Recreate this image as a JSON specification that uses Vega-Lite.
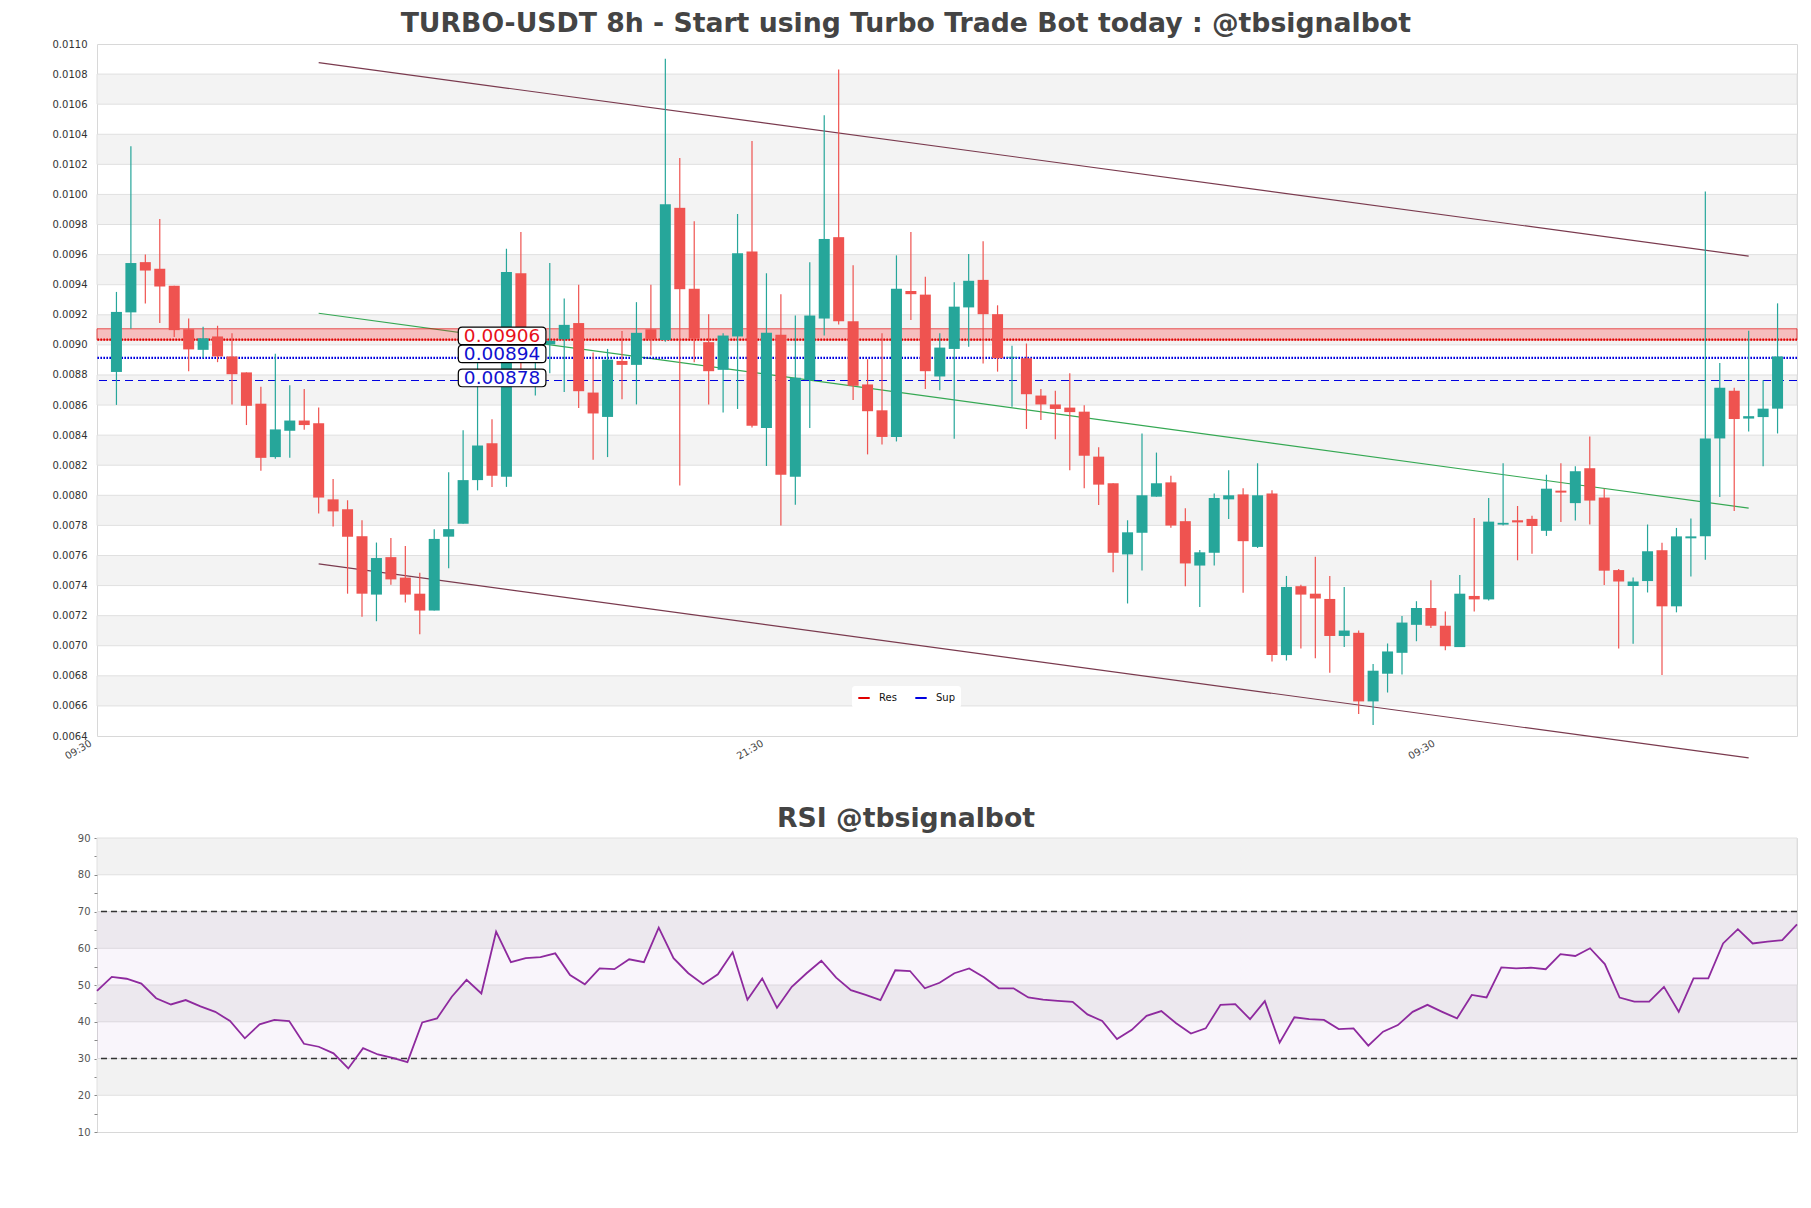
{
  "$schema": "https://vega.github.io/schema/vega-lite/v6.json",
  "background": "white",
  "padding": {"left": 46, "top": 10, "right": 10, "bottom": 5},
  "title": {"text": "TURBO-USDT 8h - Start using Turbo Trade Bot today : @tbsignalbot", "fontSize": 26.7, "font": "DejaVu Sans", "fontWeight": "bold", "color": "#444444", "anchor": "middle", "offset": 1, "dx": -18},
  "config": {"view": {"stroke": "#d8d8d8", "strokeWidth": 1}, "font": "DejaVu Sans", "axis": {"labelOverlap": false, "labelSeparation": 0}},
  "spacing": 38,
  "datasets": {
    "candles": [
      {"i":0,"open":0.008820,"high":0.009352,"low":0.008601,"close":0.009219},
      {"i":1,"open":0.009216,"high":0.010320,"low":0.009107,"close":0.009544},
      {"i":2,"open":0.009550,"high":0.009601,"low":0.009275,"close":0.009494},
      {"i":3,"open":0.009506,"high":0.009837,"low":0.009145,"close":0.009388},
      {"i":4,"open":0.009393,"high":0.009393,"low":0.009053,"close":0.009098},
      {"i":5,"open":0.009104,"high":0.009175,"low":0.008825,"close":0.008970},
      {"i":6,"open":0.008967,"high":0.009121,"low":0.008914,"close":0.009044},
      {"i":7,"open":0.009056,"high":0.009127,"low":0.008885,"close":0.008923},
      {"i":8,"open":0.008923,"high":0.009077,"low":0.008604,"close":0.008805},
      {"i":9,"open":0.008817,"high":0.008817,"low":0.008467,"close":0.008595},
      {"i":10,"open":0.008609,"high":0.008722,"low":0.008163,"close":0.008249},
      {"i":11,"open":0.008254,"high":0.008941,"low":0.008243,"close":0.008438},
      {"i":12,"open":0.008429,"high":0.008731,"low":0.008249,"close":0.008497},
      {"i":13,"open":0.008497,"high":0.008707,"low":0.008435,"close":0.008467},
      {"i":14,"open":0.008479,"high":0.008583,"low":0.007879,"close":0.007985},
      {"i":15,"open":0.007973,"high":0.008109,"low":0.007793,"close":0.007893},
      {"i":16,"open":0.007908,"high":0.007967,"low":0.007346,"close":0.007725},
      {"i":17,"open":0.007728,"high":0.007834,"low":0.007192,"close":0.007346},
      {"i":18,"open":0.007340,"high":0.007686,"low":0.007163,"close":0.007583},
      {"i":19,"open":0.007589,"high":0.007716,"low":0.007405,"close":0.007441},
      {"i":20,"open":0.007453,"high":0.007663,"low":0.007287,"close":0.007340},
      {"i":21,"open":0.007346,"high":0.007485,"low":0.007077,"close":0.007234},
      {"i":22,"open":0.007234,"high":0.007775,"low":0.007234,"close":0.007710},
      {"i":23,"open":0.007725,"high":0.008154,"low":0.007515,"close":0.007775},
      {"i":24,"open":0.007811,"high":0.008432,"low":0.007811,"close":0.008101},
      {"i":25,"open":0.008101,"high":0.008879,"low":0.008033,"close":0.008331},
      {"i":26,"open":0.008346,"high":0.008506,"low":0.008056,"close":0.008130},
      {"i":27,"open":0.008124,"high":0.009639,"low":0.008056,"close":0.009485},
      {"i":28,"open":0.009476,"high":0.009751,"low":0.008790,"close":0.008880},
      {"i":29,"open":0.008880,"high":0.009100,"low":0.008663,"close":0.009000},
      {"i":30,"open":0.009003,"high":0.009544,"low":0.008811,"close":0.009027},
      {"i":31,"open":0.009038,"high":0.009308,"low":0.008686,"close":0.009133},
      {"i":32,"open":0.009145,"high":0.009399,"low":0.008580,"close":0.008692},
      {"i":33,"open":0.008683,"high":0.008950,"low":0.008237,"close":0.008544},
      {"i":34,"open":0.008521,"high":0.008973,"low":0.008254,"close":0.008902},
      {"i":35,"open":0.008893,"high":0.009092,"low":0.008639,"close":0.008867},
      {"i":36,"open":0.008867,"high":0.009284,"low":0.008604,"close":0.009080},
      {"i":37,"open":0.009104,"high":0.009399,"low":0.008929,"close":0.009038},
      {"i":38,"open":0.009033,"high":0.010902,"low":0.009020,"close":0.009935},
      {"i":39,"open":0.009911,"high":0.010243,"low":0.008065,"close":0.009370},
      {"i":40,"open":0.009373,"high":0.009822,"low":0.008885,"close":0.009041},
      {"i":41,"open":0.009018,"high":0.009204,"low":0.008604,"close":0.008825},
      {"i":42,"open":0.008834,"high":0.009077,"low":0.008550,"close":0.009062},
      {"i":43,"open":0.009056,"high":0.009870,"low":0.008574,"close":0.009609},
      {"i":44,"open":0.009621,"high":0.010355,"low":0.008450,"close":0.008462},
      {"i":45,"open":0.008447,"high":0.009476,"low":0.008195,"close":0.009080},
      {"i":46,"open":0.009068,"high":0.009337,"low":0.007799,"close":0.008136},
      {"i":47,"open":0.008124,"high":0.009195,"low":0.007938,"close":0.008781},
      {"i":48,"open":0.008766,"high":0.009550,"low":0.008447,"close":0.009195},
      {"i":49,"open":0.009175,"high":0.010527,"low":0.009062,"close":0.009704},
      {"i":50,"open":0.009716,"high":0.010831,"low":0.009136,"close":0.009157},
      {"i":51,"open":0.009157,"high":0.009530,"low":0.008633,"close":0.008728},
      {"i":52,"open":0.008737,"high":0.008905,"low":0.008272,"close":0.008559},
      {"i":53,"open":0.008565,"high":0.009077,"low":0.008337,"close":0.008388},
      {"i":54,"open":0.008388,"high":0.009595,"low":0.008358,"close":0.009373},
      {"i":55,"open":0.009358,"high":0.009751,"low":0.009166,"close":0.009337},
      {"i":56,"open":0.009334,"high":0.009453,"low":0.008707,"close":0.008825},
      {"i":57,"open":0.008790,"high":0.009077,"low":0.008698,"close":0.008982},
      {"i":58,"open":0.008973,"high":0.009417,"low":0.008376,"close":0.009254},
      {"i":59,"open":0.009249,"high":0.009604,"low":0.008988,"close":0.009426},
      {"i":60,"open":0.009432,"high":0.009689,"low":0.008876,"close":0.009204},
      {"i":61,"open":0.009204,"high":0.009263,"low":0.008822,"close":0.008911},
      {"i":62,"open":0.008915,"high":0.008994,"low":0.008589,"close":0.008920},
      {"i":63,"open":0.008911,"high":0.009009,"low":0.008441,"close":0.008672},
      {"i":64,"open":0.008663,"high":0.008707,"low":0.008500,"close":0.008604},
      {"i":65,"open":0.008604,"high":0.008695,"low":0.008373,"close":0.008574},
      {"i":66,"open":0.008583,"high":0.008811,"low":0.008166,"close":0.008553},
      {"i":67,"open":0.008556,"high":0.008598,"low":0.008047,"close":0.008263},
      {"i":68,"open":0.008257,"high":0.008320,"low":0.007935,"close":0.008071},
      {"i":69,"open":0.008080,"high":0.008080,"low":0.007488,"close":0.007618},
      {"i":70,"open":0.007607,"high":0.007834,"low":0.007281,"close":0.007754},
      {"i":71,"open":0.007751,"high":0.008411,"low":0.007500,"close":0.008000},
      {"i":72,"open":0.007991,"high":0.008284,"low":0.007991,"close":0.008080},
      {"i":73,"open":0.008086,"high":0.008130,"low":0.007784,"close":0.007799},
      {"i":74,"open":0.007828,"high":0.007914,"low":0.007396,"close":0.007547},
      {"i":75,"open":0.007533,"high":0.007636,"low":0.007257,"close":0.007621},
      {"i":76,"open":0.007618,"high":0.008012,"low":0.007533,"close":0.007982},
      {"i":77,"open":0.007973,"high":0.008166,"low":0.007843,"close":0.008000},
      {"i":78,"open":0.008006,"high":0.008047,"low":0.007352,"close":0.007695},
      {"i":79,"open":0.007657,"high":0.008213,"low":0.007650,"close":0.008000},
      {"i":80,"open":0.008012,"high":0.008033,"low":0.006896,"close":0.006938},
      {"i":81,"open":0.006938,"high":0.007464,"low":0.006902,"close":0.007391},
      {"i":82,"open":0.007396,"high":0.007405,"low":0.006982,"close":0.007340},
      {"i":83,"open":0.007346,"high":0.007592,"low":0.006917,"close":0.007314},
      {"i":84,"open":0.007311,"high":0.007464,"low":0.006820,"close":0.007065},
      {"i":85,"open":0.007065,"high":0.007391,"low":0.006991,"close":0.007101},
      {"i":86,"open":0.007086,"high":0.007101,"low":0.006547,"close":0.006630},
      {"i":87,"open":0.006630,"high":0.006879,"low":0.006473,"close":0.006834},
      {"i":88,"open":0.006814,"high":0.007015,"low":0.006689,"close":0.006962},
      {"i":89,"open":0.006953,"high":0.007198,"low":0.006808,"close":0.007154},
      {"i":90,"open":0.007139,"high":0.007296,"low":0.007030,"close":0.007251},
      {"i":91,"open":0.007251,"high":0.007435,"low":0.007118,"close":0.007133},
      {"i":92,"open":0.007133,"high":0.007228,"low":0.006970,"close":0.006997},
      {"i":93,"open":0.006991,"high":0.007470,"low":0.006991,"close":0.007346},
      {"i":94,"open":0.007331,"high":0.007849,"low":0.007228,"close":0.007308},
      {"i":95,"open":0.007308,"high":0.007982,"low":0.007300,"close":0.007825},
      {"i":96,"open":0.007805,"high":0.008213,"low":0.007800,"close":0.007817},
      {"i":97,"open":0.007834,"high":0.007929,"low":0.007568,"close":0.007820},
      {"i":98,"open":0.007843,"high":0.007864,"low":0.007612,"close":0.007796},
      {"i":99,"open":0.007764,"high":0.008137,"low":0.007730,"close":0.008044},
      {"i":100,"open":0.008031,"high":0.008213,"low":0.007823,"close":0.008018},
      {"i":101,"open":0.007948,"high":0.008193,"low":0.007833,"close":0.008160},
      {"i":102,"open":0.008180,"high":0.008391,"low":0.007806,"close":0.007965},
      {"i":103,"open":0.007985,"high":0.008044,"low":0.007404,"close":0.007499},
      {"i":104,"open":0.007503,"high":0.007510,"low":0.006981,"close":0.007427},
      {"i":105,"open":0.007397,"high":0.007453,"low":0.007014,"close":0.007427},
      {"i":106,"open":0.007430,"high":0.007806,"low":0.007354,"close":0.007628},
      {"i":107,"open":0.007635,"high":0.007684,"low":0.006806,"close":0.007262},
      {"i":108,"open":0.007262,"high":0.007783,"low":0.007222,"close":0.007727},
      {"i":109,"open":0.007714,"high":0.007846,"low":0.007460,"close":0.007727},
      {"i":110,"open":0.007727,"high":0.010019,"low":0.007572,"close":0.008378},
      {"i":111,"open":0.008378,"high":0.008880,"low":0.007988,"close":0.008715},
      {"i":112,"open":0.008695,"high":0.008715,"low":0.007896,"close":0.008507},
      {"i":113,"open":0.008510,"high":0.009094,"low":0.008424,"close":0.008526},
      {"i":114,"open":0.008520,"high":0.008764,"low":0.008193,"close":0.008576},
      {"i":115,"open":0.008576,"high":0.009276,"low":0.008411,"close":0.008923}
    ],
    "rsi": [
      {"i":0,"rsi":48.4},{"i":1,"rsi":52.2},{"i":2,"rsi":51.7},{"i":3,"rsi":50.4},{"i":4,"rsi":46.4},
      {"i":5,"rsi":44.7},{"i":6,"rsi":45.9},{"i":7,"rsi":44.2},{"i":8,"rsi":42.7},{"i":9,"rsi":40.2},
      {"i":10,"rsi":35.5},{"i":11,"rsi":39.3},{"i":12,"rsi":40.5},{"i":13,"rsi":40.2},{"i":14,"rsi":34.0},
      {"i":15,"rsi":33.2},{"i":16,"rsi":31.4},{"i":17,"rsi":27.3},{"i":18,"rsi":32.8},{"i":19,"rsi":31.1},
      {"i":20,"rsi":30.2},{"i":21,"rsi":29.0},{"i":22,"rsi":39.8},{"i":23,"rsi":40.9},{"i":24,"rsi":46.8},
      {"i":25,"rsi":51.4},{"i":26,"rsi":47.7},{"i":27,"rsi":64.5},{"i":28,"rsi":56.2},{"i":29,"rsi":57.3},
      {"i":30,"rsi":57.6},{"i":31,"rsi":58.6},{"i":32,"rsi":52.7},{"i":33,"rsi":50.2},{"i":34,"rsi":54.5},
      {"i":35,"rsi":54.3},{"i":36,"rsi":57.0},{"i":37,"rsi":56.2},{"i":38,"rsi":65.6},{"i":39,"rsi":57.3},
      {"i":40,"rsi":53.2},{"i":41,"rsi":50.2},{"i":42,"rsi":52.9},{"i":43,"rsi":58.9},{"i":44,"rsi":46.0},
      {"i":45,"rsi":51.8},{"i":46,"rsi":43.8},{"i":47,"rsi":49.5},{"i":48,"rsi":53.2},{"i":49,"rsi":56.6},
      {"i":50,"rsi":52.0},{"i":51,"rsi":48.6},{"i":52,"rsi":47.3},{"i":53,"rsi":45.9},{"i":54,"rsi":54.0},
      {"i":55,"rsi":53.8},{"i":56,"rsi":49.1},{"i":57,"rsi":50.6},{"i":58,"rsi":53.2},{"i":59,"rsi":54.5},
      {"i":60,"rsi":52.1},{"i":61,"rsi":49.1},{"i":62,"rsi":49.1},{"i":63,"rsi":46.6},{"i":64,"rsi":46.0},
      {"i":65,"rsi":45.7},{"i":66,"rsi":45.4},{"i":67,"rsi":42.0},{"i":68,"rsi":40.2},{"i":69,"rsi":35.3},
      {"i":70,"rsi":37.8},{"i":71,"rsi":41.6},{"i":72,"rsi":42.9},{"i":73,"rsi":39.6},{"i":74,"rsi":36.8},
      {"i":75,"rsi":38.2},{"i":76,"rsi":44.6},{"i":77,"rsi":44.8},{"i":78,"rsi":40.7},{"i":79,"rsi":45.6},
      {"i":80,"rsi":34.3},{"i":81,"rsi":41.2},{"i":82,"rsi":40.7},{"i":83,"rsi":40.5},{"i":84,"rsi":38.0},
      {"i":85,"rsi":38.2},{"i":86,"rsi":33.5},{"i":87,"rsi":37.3},{"i":88,"rsi":39.1},{"i":89,"rsi":42.7},
      {"i":90,"rsi":44.6},{"i":91,"rsi":42.7},{"i":92,"rsi":40.9},{"i":93,"rsi":47.3},{"i":94,"rsi":46.6},
      {"i":95,"rsi":54.8},{"i":96,"rsi":54.5},{"i":97,"rsi":54.7},{"i":98,"rsi":54.3},{"i":99,"rsi":58.4},
      {"i":100,"rsi":57.9},{"i":101,"rsi":60.0},{"i":102,"rsi":55.7},{"i":103,"rsi":46.6},{"i":104,"rsi":45.5},
      {"i":105,"rsi":45.5},{"i":106,"rsi":49.5},{"i":107,"rsi":42.7},{"i":108,"rsi":51.8},{"i":109,"rsi":51.8},
      {"i":110,"rsi":61.3},{"i":111,"rsi":65.2},{"i":112,"rsi":61.3},{"i":113,"rsi":61.8},{"i":114,"rsi":62.2},
      {"i":115,"rsi":66.5}
    ],
    "mainBands": [
      {"lo":0.0066,"hi":0.0068},{"lo":0.0070,"hi":0.0072},{"lo":0.0074,"hi":0.0076},{"lo":0.0078,"hi":0.0080},
      {"lo":0.0082,"hi":0.0084},{"lo":0.0086,"hi":0.0088},{"lo":0.0090,"hi":0.0092},{"lo":0.0094,"hi":0.0096},
      {"lo":0.0098,"hi":0.0100},{"lo":0.0102,"hi":0.0104},{"lo":0.0106,"hi":0.0108}
    ],
    "channels": [
      {"line":"upper","i":14,"price":0.010876},{"line":"upper","i":113,"price":0.009590},
      {"line":"lower","i":14,"price":0.007544},{"line":"lower","i":113,"price":0.006254},
      {"line":"mid","i":14,"price":0.009210},{"line":"mid","i":113,"price":0.007915}
    ],
    "resZone": [{"lo":0.009033,"hi":0.009107}],
    "levels": [
      {"kind":"Res","price":0.009035,"rank":1},
      {"kind":"Sup","price":0.008913,"rank":1},
      {"kind":"Sup","price":0.008763,"rank":2}
    ],
    "labels": [
      {"kind":"Res","value":0.00906},
      {"kind":"Sup","value":0.00894},
      {"kind":"Sup","value":0.00878}
    ],
    "rsiBands": [{"lo":20,"hi":30},{"lo":40,"hi":50},{"lo":60,"hi":70},{"lo":80,"hi":90}],
    "rsiZone": [{"lo":30,"hi":70}],
    "rsiLevels": [{"level":30},{"level":70}]
  },
  "vconcat": [
    {
      "width": 1700,
      "height": 692,
      "encoding": {
        "y": {"type": "quantitative", "title": null,
              "scale": {"domain": [0.0064, 0.011], "nice": false, "zero": false},
              "axis": {"values": [0.0064,0.0066,0.0068,0.007,0.0072,0.0074,0.0076,0.0078,0.008,0.0082,0.0084,0.0086,0.0088,0.009,0.0092,0.0094,0.0096,0.0098,0.01,0.0102,0.0104,0.0106,0.0108,0.011],
                       "format": ".4f", "labelFontSize": 10, "labelColor": "#333333", "labelFont": "DejaVu Sans",
                       "ticks": false, "labelPadding": 10, "domain": false, "grid": false,
                       "labelOverlap": false, "labelBound": false, "labelSeparation": 0,
                       "minExtent": 50, "maxExtent": 50, "title": null}}
      },
      "layer": [
        {
          "data": {"name": "mainBands"},
          "mark": {"type": "rect", "fill": "#f3f3f3", "stroke": "#e0e0e0", "strokeWidth": 1},
          "encoding": {
            "x": {"value": 0},
            "x2": {"value": "width"},
            "y": {"field": "lo", "type": "quantitative", "title": null,
                  "scale": {"domain": [0.0064, 0.011], "nice": false, "zero": false},
                  "axis": {"values": [0.0064,0.0066,0.0068,0.007,0.0072,0.0074,0.0076,0.0078,0.008,0.0082,0.0084,0.0086,0.0088,0.009,0.0092,0.0094,0.0096,0.0098,0.01,0.0102,0.0104,0.0106,0.0108,0.011],
                           "format": ".4f", "labelFontSize": 10, "labelColor": "#333333", "labelFont": "DejaVu Sans",
                           "ticks": false, "labelPadding": 10, "domain": false, "grid": false,
                           "labelOverlap": false, "labelBound": false, "labelSeparation": 0,
                           "minExtent": 50, "maxExtent": 50, "title": null}},
            "y2": {"field": "hi"}
          }
        },
        {
          "data": {"name": "channels"},
          "mark": {"type": "line", "strokeWidth": 1.2, "clip": false},
          "encoding": {
            "x": {"field": "i", "type": "quantitative", "title": null},
            "y": {"field": "price", "type": "quantitative", "title": null},
            "detail": {"field": "line"},
            "color": {"condition": {"test": "datum.line == 'mid'", "value": "#35a853"}, "value": "#7a3a4e"}
          }
        },
        {
          "data": {"name": "resZone"},
          "mark": {"type": "rect", "fill": "#ff2020", "fillOpacity": 0.25, "stroke": "#e00000", "strokeWidth": 0.8, "strokeOpacity": 0.8},
          "encoding": {
            "x": {"value": 0},
            "x2": {"value": "width"},
            "y": {"field": "lo", "type": "quantitative", "title": null},
            "y2": {"field": "hi"}
          }
        },
        {
          "data": {"name": "levels"},
          "mark": {"type": "rule"},
          "encoding": {
            "y": {"field": "price", "type": "quantitative", "title": null},
            "color": {"field": "kind", "type": "nominal",
                      "scale": {"domain": ["Res", "Sup"], "range": ["#e00000", "#0000e0"]},
                      "legend": {"orient": "none", "legendX": 755, "legendY": 642, "direction": "horizontal",
                                 "title": null, "fillColor": "white", "padding": 5, "cornerRadius": 3,
                                 "symbolType": "stroke", "symbolStrokeWidth": 2, "symbolSize": 130,
                                 "labelFontSize": 10, "labelFont": "DejaVu Sans", "labelColor": "#111111",
                                 "columnPadding": 14, "labelOffset": 8}},
            "strokeDash": {"field": "rank", "type": "nominal", "scale": {"domain": [1, 2], "range": [[1.6, 1.4], [8, 5]]}, "legend": null},
            "strokeWidth": {"field": "rank", "type": "ordinal", "scale": {"domain": [1, 2], "range": [2.2, 1.2]}, "legend": null}
          }
        },
        {
          "data": {"name": "candles"},
          "mark": {"type": "rule", "strokeWidth": 1.2},
          "encoding": {
            "x": {"field": "i", "type": "quantitative", "title": null,
                  "scale": {"domain": [-1, 116], "nice": false, "zero": false},
                  "axis": {"values": [-1, 45.5, 92],
                           "labelExpr": "datum.value < 0 ? '09:30' : (datum.value < 60 ? '21:30' : '09:30')",
                           "labelAngle": -30, "labelAlign": "right", "labelBaseline": "top",
                           "labelFontSize": 10, "labelColor": "#444444", "labelFont": "DejaVu Sans",
                           "ticks": false, "domain": false, "grid": false, "labelPadding": 2, "labelOffset": -14,
                           "labelFlush": false, "labelOverlap": false, "labelBound": false,
                           "minExtent": 30, "maxExtent": 30, "title": null}},
            "y": {"field": "low", "type": "quantitative", "title": null},
            "y2": {"field": "high"},
            "color": {"condition": {"test": "datum.close >= datum.open", "value": "#26a69a"}, "value": "#ef5350"}
          }
        },
        {
          "data": {"name": "candles"},
          "mark": {"type": "bar", "width": 11},
          "encoding": {
            "x": {"field": "i", "type": "quantitative", "title": null},
            "y": {"field": "open", "type": "quantitative", "title": null},
            "y2": {"field": "close"},
            "color": {"condition": {"test": "datum.close >= datum.open", "value": "#26a69a"}, "value": "#ef5350"}
          }
        },
        {
          "data": {"name": "labels"},
          "mark": {"type": "point", "filled": true, "fill": "white", "stroke": "black", "strokeWidth": 1.2, "opacity": 1, "fillOpacity": 1, "size": 7674,
                   "shape": "M-0.91,-0.2L0.91,-0.2Q1,-0.2 1,-0.11L1,0.11Q1,0.2 0.91,0.2L-0.91,0.2Q-1,0.2 -1,0.11L-1,-0.11Q-1,-0.2 -0.91,-0.2Z"},
          "encoding": {
            "x": {"datum": 26.7, "type": "quantitative"},
            "y": {"field": "value", "type": "quantitative", "title": null}
          }
        },
        {
          "data": {"name": "labels"},
          "mark": {"type": "text", "fontSize": 18.5, "font": "DejaVu Sans", "baseline": "middle", "align": "center", "dy": 0},
          "encoding": {
            "x": {"datum": 26.7, "type": "quantitative"},
            "y": {"field": "value", "type": "quantitative", "title": null},
            "text": {"field": "value", "type": "quantitative", "format": ".5f"},
            "color": {"condition": {"test": "datum.kind == 'Res'", "value": "#e8101a"}, "value": "#1010d0"}
          }
        }
      ]
    },
    {
      "width": 1700,
      "height": 294,
      "title": {"text": "RSI @tbsignalbot", "fontSize": 26.7, "font": "DejaVu Sans", "fontWeight": "bold", "color": "#444444", "anchor": "middle", "offset": 0, "dx": -41},
      "encoding": {
        "y": {"type": "quantitative", "title": null,
              "scale": {"domain": [10, 90], "nice": false, "zero": false},
              "axis": {"values": [10,15,20,25,30,35,40,45,50,55,60,65,70,75,80,85,90],
                       "labelExpr": "datum.value % 10 == 0 ? datum.label : ''",
                       "labelFontSize": 10, "labelColor": "#555555", "labelFont": "DejaVu Sans",
                       "labelOverlap": false, "labelBound": false, "labelSeparation": 0,
                       "ticks": true, "tickSize": 3, "tickColor": "#888888", "labelPadding": 4,
                       "domain": false, "grid": false, "minExtent": 50, "maxExtent": 50, "title": null}}
      },
      "layer": [
        {
          "data": {"name": "rsiBands"},
          "mark": {"type": "rect", "fill": "#f2f2f2", "stroke": "#e0e0e0", "strokeWidth": 1},
          "encoding": {
            "x": {"value": 0},
            "x2": {"value": "width"},
            "y": {"field": "lo", "type": "quantitative", "title": null,
                  "scale": {"domain": [10, 90], "nice": false, "zero": false},
                  "axis": {"values": [10,15,20,25,30,35,40,45,50,55,60,65,70,75,80,85,90],
                           "labelExpr": "datum.value % 10 == 0 ? datum.label : ''",
                           "labelFontSize": 10, "labelColor": "#555555", "labelFont": "DejaVu Sans",
                           "labelOverlap": false, "labelBound": false, "labelSeparation": 0,
                           "ticks": true, "tickSize": 3, "tickColor": "#888888", "labelPadding": 4,
                           "domain": false, "grid": false, "minExtent": 50, "maxExtent": 50, "title": null}},
            "y2": {"field": "hi"}
          }
        },
        {
          "data": {"name": "rsiZone"},
          "mark": {"type": "rect", "fill": "#b070c0", "fillOpacity": 0.07},
          "encoding": {
            "x": {"value": 0},
            "x2": {"value": "width"},
            "y": {"field": "lo", "type": "quantitative", "title": null},
            "y2": {"field": "hi"}
          }
        },
        {
          "data": {"name": "rsiLevels"},
          "mark": {"type": "rule", "color": "#333333", "strokeWidth": 1.3, "strokeDash": [6, 4]},
          "encoding": {
            "y": {"field": "level", "type": "quantitative", "title": null}
          }
        },
        {
          "data": {"name": "rsi"},
          "mark": {"type": "line", "color": "#8e2a9e", "strokeWidth": 1.8},
          "encoding": {
            "x": {"field": "i", "type": "quantitative", "scale": {"domain": [0, 115], "nice": false, "zero": false}, "axis": null},
            "y": {"field": "rsi", "type": "quantitative", "title": null}
          }
        }
      ]
    }
  ]
}
